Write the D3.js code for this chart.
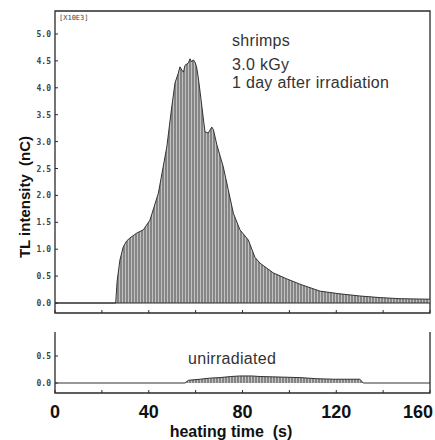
<!DOCTYPE html>
<html>
<head>
<meta charset="utf-8">
<script src="https://cdn.jsdelivr.net/npm/d3@7"></script>
<style>
  body { margin: 0; background: #fff; }
  svg { display: block; }
</style>
</head>
<body>
<div id="chart"></div>
<script>
// heating time (s) and TL intensity (x10^3 nC), irradiated shrimps
const topTime = [0, 25.9, 26.5, 27.7, 29.1, 30.5, 32.0, 34.9, 37.7, 40.5, 44.1, 47.7, 49.8, 51.2, 52.6, 53.3, 54.1, 54.8, 55.5, 56.9, 57.6, 58.3, 59.0, 59.7, 60.4, 61.1, 61.8, 63.2, 64.0, 65.4, 66.9, 67.6, 69.0, 71.8, 73.9, 76.1, 78.9, 82.5, 85.3, 87.5, 93.1, 98.8, 104.5, 113.1, 121.6, 130.1, 138.7, 147.2, 160];
const topValue = [0, 0, 0.40, 0.80, 1.04, 1.15, 1.21, 1.30, 1.36, 1.54, 2.04, 2.90, 3.64, 4.09, 4.27, 4.39, 4.33, 4.29, 4.42, 4.46, 4.54, 4.48, 4.52, 4.48, 4.39, 4.20, 3.96, 3.46, 3.18, 3.16, 3.27, 3.22, 2.95, 2.53, 2.11, 1.67, 1.36, 1.17, 0.85, 0.74, 0.56, 0.45, 0.35, 0.22, 0.17, 0.13, 0.10, 0.08, 0.07];

// unirradiated
const botTime = [0, 55.5, 56.9, 61.9, 66.0, 70.4, 75.0, 78.9, 84.0, 87.5, 96.0, 104.5, 111.6, 118.7, 130.1, 131.5, 160];
const botValue = [0, 0, 0.05, 0.07, 0.09, 0.10, 0.12, 0.13, 0.13, 0.12, 0.11, 0.10, 0.08, 0.07, 0.07, 0, 0];

const topTicks = [0, 0.5, 1.0, 1.5, 2.0, 2.5, 3.0, 3.5, 4.0, 4.5, 5.0];
const botTicks = [0, 0.5];
const xLabels = [0, 40, 80, 120, 160];
const xMinor = [0, 20, 40, 60, 80, 100, 120, 140, 160];

const width = 435, height = 440;
const svg = d3.select("#chart").append("svg")
  .attr("width", width).attr("height", height);

const x = d3.scaleLinear().domain([0, 160]).range([55, 430]);
const yTop = d3.scaleLinear().domain([0, 5]).range([303, 34]);
const yBot = d3.scaleLinear().domain([0, 0.5]).range([383, 356]);

// hatched grey fill like the plotter output
const defs = svg.append("defs");
const pat = defs.append("pattern")
  .attr("id", "hatch")
  .attr("patternUnits", "userSpaceOnUse")
  .attr("width", 3).attr("height", 4);
pat.append("rect").attr("width", 3).attr("height", 4).attr("fill", "#858585");
pat.append("rect").attr("x", 2).attr("width", 1).attr("height", 4)
  .attr("fill", "#fff").attr("opacity", 0.5);

const topData = topTime.map((t, i) => ({ t: t, v: topValue[i] }));
const botData = botTime.map((t, i) => ({ t: t, v: botValue[i] }));

const ink = "#2a2a2a";

// --- top panel frame
const gTop = svg.append("g");
gTop.append("path")
  .attr("d", `M${x(0)},313V11H${x(160)}V313Z`)
  .attr("fill", "none").attr("stroke", ink).attr("stroke-width", 1.3);

gTop.append("path")
  .datum(topData)
  .attr("fill", "url(#hatch)")
  .attr("d", d3.area().x(d => x(d.t)).y0(yTop(0)).y1(d => yTop(d.v)));
gTop.append("path")
  .datum(topData)
  .attr("fill", "none").attr("stroke", "#333").attr("stroke-width", 1)
  .attr("d", d3.line().x(d => x(d.t)).y(d => yTop(d.v)));
gTop.append("line")
  .attr("x1", x(0)).attr("x2", x(160))
  .attr("y1", yTop(0)).attr("y2", yTop(0))
  .attr("stroke", ink).attr("stroke-width", 1);

// y ticks
gTop.selectAll(".yt").data(topTicks).enter().append("line")
  .attr("x1", x(0)).attr("x2", x(0) + 3)
  .attr("y1", d => yTop(d)).attr("y2", d => yTop(d))
  .attr("stroke", ink);
gTop.selectAll(".yl").data(topTicks).enter().append("text")
  .attr("x", x(0) - 4).attr("y", d => yTop(d) + 3)
  .attr("text-anchor", "end")
  .style("font", "bold 8px 'DejaVu Sans Mono', monospace")
  .attr("fill", "#444")
  .text(d => d3.format(".1f")(d));
gTop.append("text")
  .attr("x", 59).attr("y", 20)
  .style("font", "7px 'DejaVu Sans Mono', monospace")
  .attr("fill", "#444")
  .text("[X10E3]");

// x ticks on bottom frame
gTop.selectAll(".xt").data(xMinor).enter().append("line")
  .attr("x1", d => x(d)).attr("x2", d => x(d))
  .attr("y1", 313).attr("y2", 310)
  .attr("stroke", ink);

// annotation
const ann = svg.append("g")
  .style("font", "16px 'Liberation Sans', Arial, sans-serif")
  .style("letter-spacing", "0.3px")
  .attr("fill", "#333");
ann.append("text").attr("x", 232).attr("y", 46).text("shrimps");
ann.append("text").attr("x", 232).attr("y", 70).text("3.0 kGy");
ann.append("text").attr("x", 232).attr("y", 88).text("1 day after irradiation");

// --- bottom panel
const gBot = svg.append("g");
gBot.append("path")
  .attr("d", `M${x(0)},332V393H${x(160)}V332`)
  .attr("fill", "none").attr("stroke", ink).attr("stroke-width", 1.3);
gBot.append("path")
  .datum(botData)
  .attr("fill", "url(#hatch)")
  .attr("d", d3.area().x(d => x(d.t)).y0(yBot(0)).y1(d => yBot(d.v)));
gBot.append("path")
  .datum(botData)
  .attr("fill", "none").attr("stroke", "#333").attr("stroke-width", 1)
  .attr("d", d3.line().x(d => x(d.t)).y(d => yBot(d.v)));

gBot.selectAll(".yt").data(botTicks).enter().append("line")
  .attr("x1", x(0)).attr("x2", x(0) + 3)
  .attr("y1", d => yBot(d)).attr("y2", d => yBot(d))
  .attr("stroke", ink);
gBot.selectAll(".yl").data(botTicks).enter().append("text")
  .attr("x", x(0) - 4).attr("y", d => yBot(d) + 3)
  .attr("text-anchor", "end")
  .style("font", "bold 8px 'DejaVu Sans Mono', monospace")
  .attr("fill", "#444")
  .text(d => d3.format(".1f")(d));
gBot.selectAll(".xt").data(xMinor).enter().append("line")
  .attr("x1", d => x(d)).attr("x2", d => x(d))
  .attr("y1", 393).attr("y2", 390)
  .attr("stroke", ink);
ann.append("text").attr("x", 188).attr("y", 364).text("unirradiated");

// x labels (last one pulled inside the edge)
svg.selectAll(".xl").data(xLabels).enter().append("text")
  .attr("x", d => d === 160 ? x(d) + 3 : x(d))
  .attr("y", 418)
  .attr("text-anchor", d => d === 160 ? "end" : "middle")
  .style("font", "bold 18px 'Liberation Sans', Arial, sans-serif")
  .attr("fill", "#111")
  .text(d => d);
svg.append("text")
  .attr("x", 231).attr("y", 437)
  .attr("text-anchor", "middle")
  .style("font", "bold 16px 'Liberation Sans', Arial, sans-serif")
  .style("white-space", "pre")
  .attr("fill", "#111")
  .text("heating time  (s)");

svg.append("text")
  .attr("transform", "translate(30,197) rotate(-90)")
  .attr("text-anchor", "middle")
  .style("font", "bold 15px 'Liberation Sans', Arial, sans-serif")
  .style("white-space", "pre")
  .attr("fill", "#111")
  .text("TL intensity  (nC)");
</script>
</body>
</html>
